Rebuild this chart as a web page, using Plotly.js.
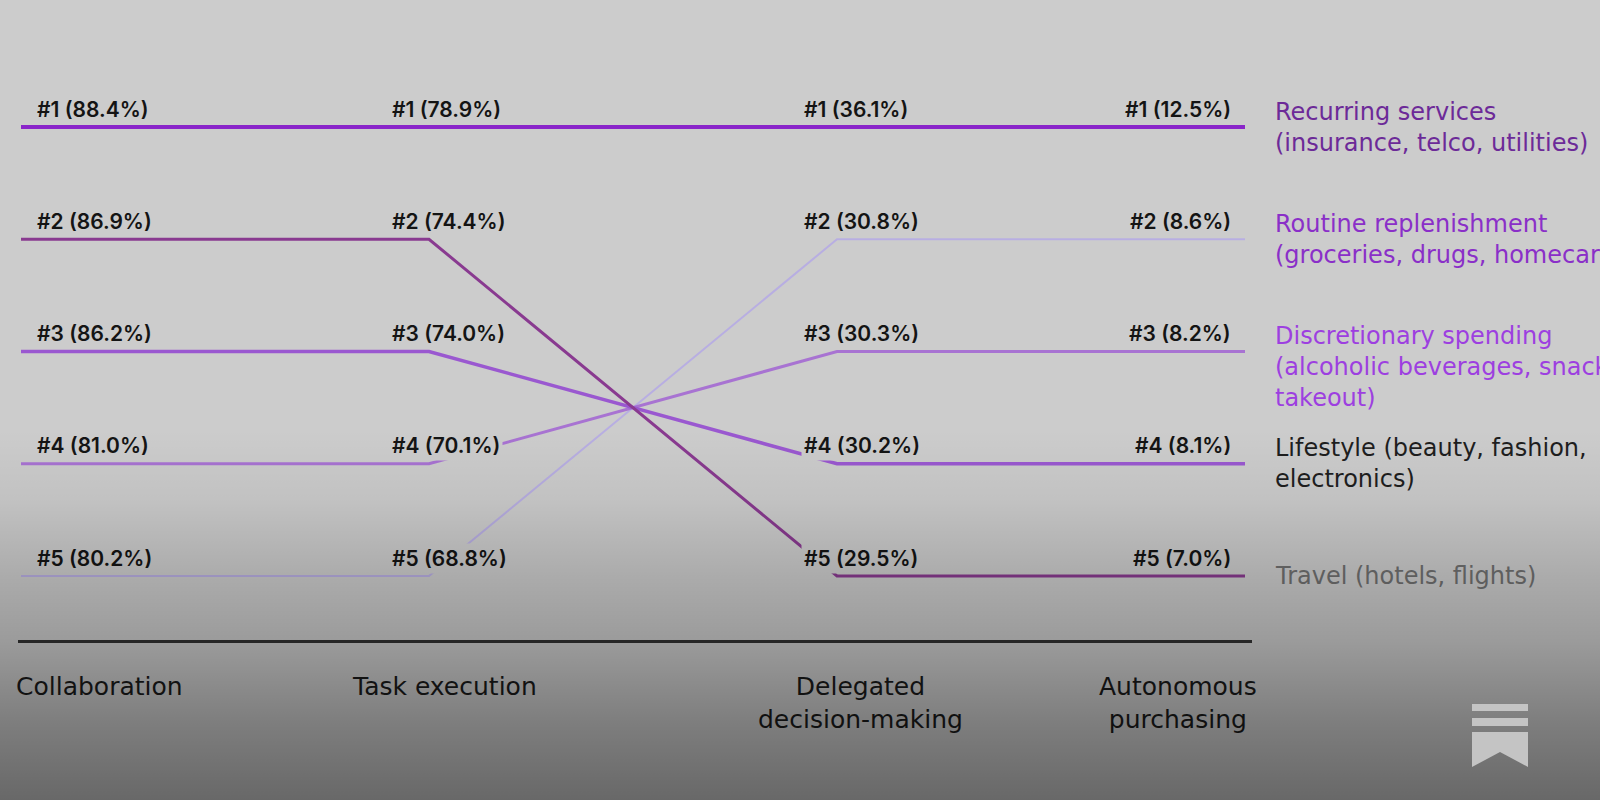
<!DOCTYPE html>
<html>
<head>
<meta charset="utf-8">
<script src="https://cdn.plot.ly/plotly-3.0.1.min.js"></script>
<style>
html, body { margin: 0; padding: 0; background: #cccccc; }
#wrap { position: relative; width: 1600px; height: 800px; overflow: hidden; background: #cccccc; }
#chart { position: absolute; left: 0; top: 0; width: 1600px; height: 800px; }
#shade { position: absolute; left: 0; top: 0; width: 1600px; height: 800px; pointer-events: none;
  background: linear-gradient(to bottom, rgba(0,0,0,0) 0px, rgba(0,0,0,0) 430px, rgba(0,0,0,0.05) 500px,
    rgba(0,0,0,0.16) 576px, rgba(0,0,0,0.24) 640px, rgba(0,0,0,0.38) 720px, rgba(0,0,0,0.49) 800px); }
#logo { position: absolute; left: 1472px; top: 704px; }
</style>
</head>
<body>
<div id="wrap">
  <div id="chart"></div>
  <div id="shade"></div>
  <svg id="logo" width="56" height="63" viewBox="0 0 56 63">
    <g fill="#c4c4c4">
      <rect x="0" y="0" width="56" height="7"></rect>
      <rect x="0" y="14" width="56" height="8"></rect>
      <path d="M0 28 H56 V63 L28 48 L0 63 Z"></path>
    </g>
  </svg>
</div>
<script>
// ---- data ----
const stages = ["Collaboration", "Task execution", "Delegated<br>decision-making", "Autonomous<br>purchasing"];
const ranks = [1, 2, 3, 4, 5];
const categories = [
  "Recurring services<br>(insurance, telco, utilities)",
  "Routine replenishment<br>(groceries, drugs, homecare)",
  "Discretionary spending<br>(alcoholic beverages, snacks,<br>takeout)",
  "Lifestyle (beauty, fashion,<br>electronics)",
  "Travel (hotels, flights)"
];
// share (%) at each rank, per stage
const collaborationPct = [88.4, 86.9, 86.2, 81.0, 80.2];
const taskExecutionPct = [78.9, 74.4, 74.0, 70.1, 68.8];
const delegatedPct = [36.1, 30.8, 30.3, 30.2, 29.5];
const autonomousPct = [12.5, 8.6, 8.2, 8.1, 7.0];
// rank path of each line across the four stages
const line1Ranks = [1, 1, 1, 1];
const line2Ranks = [2, 2, 5, 5];
const line3Ranks = [3, 3, 4, 4];
const line4Ranks = [4, 4, 3, 3];
const line5Ranks = [5, 5, 2, 2];

// ---- styles ----
const BG = "#cccccc";
const NUMFONT = "Inter, 'Noto Sans', sans-serif";
const TXTFONT = "'DejaVu Sans', 'Noto Sans', sans-serif";
const lineColors = ["#8a25c9", "#893a90", "#9a58d0", "#a873d2", "#b8aee2"];
const lineWidths = [4, 3, 3.5, 3, 2];
const catColors = ["#6c2a98", "#8a2fc8", "#9d3fe0", "#1e1e1e", "#707070"];

const stageX = stages.map((_, i) => i);
const pctByStage = [collaborationPct, taskExecutionPct, delegatedPct, autonomousPct];
const lineRanks = [line1Ranks, line2Ranks, line3Ranks, line4Ranks, line5Ranks];

// draw order: lightest first so the strongest line ends on top
const order = [4, 3, 2, 1, 0];
const traces = order.map(i => ({
  type: "scatter",
  mode: "lines",
  x: stageX,
  y: lineRanks[i],
  name: categories[i].split("<br>")[0],
  line: { color: lineColors[i], width: lineWidths[i], shape: "linear" },
  hoverinfo: "skip",
  showlegend: false
}));

const annotations = [];
// value labels per stage & rank
const labelShift = [13, -40, -36, -11];
pctByStage.forEach((vals, s) => {
  vals.forEach((v, k) => {
    annotations.push({
      x: stageX[s], y: ranks[k], xref: "x", yref: "y",
      text: "#" + ranks[k] + " (" + v.toFixed(1) + "%)",
      showarrow: false,
      xanchor: s === 3 ? "right" : "left",
      yanchor: "middle",
      xshift: labelShift[s], yshift: 18,
      bgcolor: BG, borderpad: 2,
      font: { family: NUMFONT, size: 21, weight: 600, color: "#141414" }
    });
  });
});
// category labels at the right
categories.forEach((c, k) => {
  const n = c.split("<br>").length;
  annotations.push({
    x: stageX[3], y: ranks[k], xref: "x", yref: "y",
    text: c, showarrow: false, align: "left",
    xanchor: "left", yanchor: "middle",
    xshift: 28, yshift: n > 2 ? -(n - 2) * 15.5 : 0,
    font: { family: TXTFONT, size: 24, weight: 400, color: catColors[k] }
  });
});
// stage names under the axis line
const stageAnchor = ["left", "center", "center", "center"];
const stageShift = [-7, 15, 23, -67];
stages.forEach((st, s) => {
  annotations.push({
    x: stageX[s], y: -0.0517, xref: "x", yref: "paper",
    text: st, showarrow: false, align: "center",
    xanchor: stageAnchor[s], yanchor: "top", xshift: stageShift[s],
    font: { family: TXTFONT, size: 25, weight: 400, color: "#1a1a1a" }
  });
});

const layout = {
  width: 1600, height: 800,
  margin: { l: 18, r: 348, t: 60, b: 160, pad: 0 },
  paper_bgcolor: "rgba(0,0,0,0)",
  plot_bgcolor: "rgba(0,0,0,0)",
  showlegend: false,
  xaxis: {
    range: [-0.00735, 3.01716], showgrid: false, zeroline: false,
    showticklabels: false, ticks: "", showline: true,
    linecolor: "#333333", linewidth: 3, fixedrange: true
  },
  yaxis: {
    range: [5.57, 0.403], showgrid: false, zeroline: false,
    showticklabels: false, ticks: "", showline: false, fixedrange: true
  },
  annotations: annotations
};

Plotly.newPlot("chart", traces, layout, { staticPlot: true, displayModeBar: false });
</script>
</body>
</html>
